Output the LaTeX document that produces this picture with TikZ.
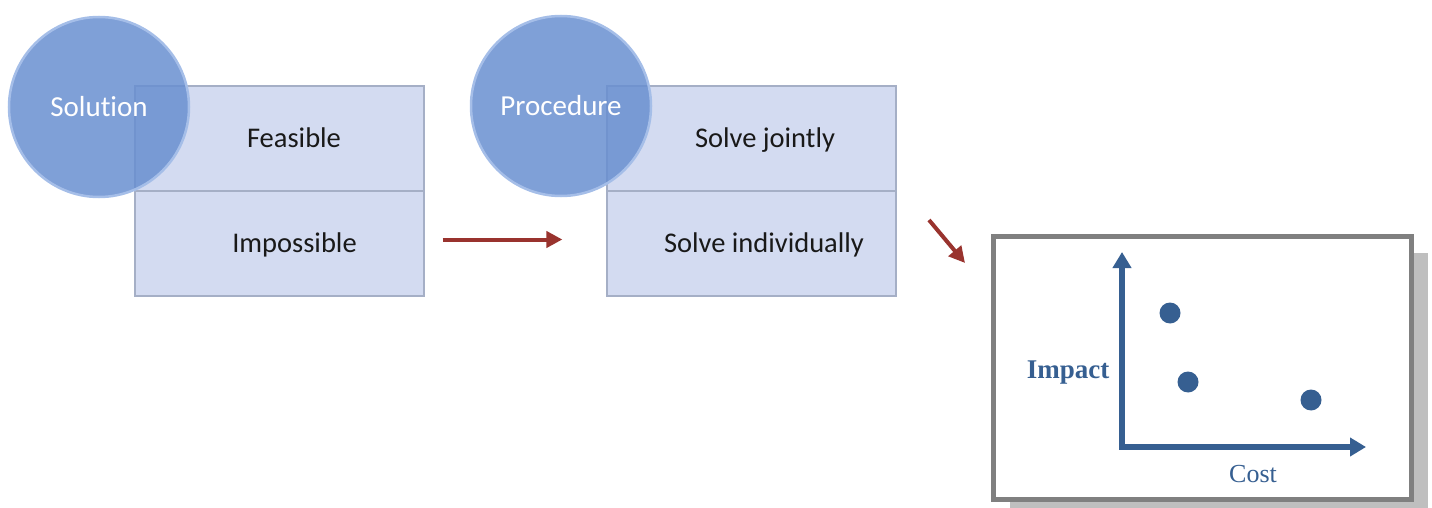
\documentclass[tikz,border=0pt]{standalone}
\usepackage{fontspec}
\newfontfamily\boxfont[RawFeature=-liga]{Carlito}
\newfontfamily\plotfont{Liberation Serif}
\usetikzlibrary{arrows.meta,shadows}

\definecolor{cellfill}{RGB}{211,219,241}
\definecolor{cellline}{RGB}{165,175,198}
\definecolor{ballblue}{RGB}{105,143,208}
\definecolor{ballrim}{RGB}{165,190,232}
\definecolor{arrowred}{RGB}{153,51,46}
\definecolor{axisblue}{RGB}{54,95,145}
\definecolor{framegray}{RGB}{128,128,128}

\begin{document}
\begin{tikzpicture}[
                x=1pt, y=-1pt,
                cellbox/.style={
                    draw=cellline,
                    fill=cellfill,
                    line width=1.2pt,
                    rectangle,
                    minimum width=289pt,
                    minimum height=105pt
                },
                celltext/.style={
                    anchor=base,
                    text=black!90,
                    font=\boxfont\fontsize{28.5}{34}\selectfont
                },
                ball/.style={
                    circle,
                    fill=ballblue,
                    fill opacity=0.85,
                    text opacity=1,
                    draw=ballrim,
                    line width=2.5pt,
                    minimum size=180pt,
                    text=white,
                    font=\boxfont\fontsize{29}{34}\selectfont
                },
                arrow/.style={
                    -{Triangle[length=16pt,width=16pt]},
                    draw=arrowred,
                    line width=4pt
                },
                plotframe/.style={
                    draw=framegray,
                    fill=white,
                    line width=5pt,
                    minimum width=418pt,
                    minimum height=263pt,
                    drop shadow={shadow xshift=16pt, shadow yshift=-16pt, fill=black!25, opacity=1}
                },
                axis/.style={
                    {Triangle[length=16pt,width=18pt]}-{Triangle[length=16pt,width=18pt]},
                    draw=axisblue,
                    line width=5.5pt
                },
                dot/.style={
                    circle,
                    fill=axisblue,
                    minimum size=21pt,
                    inner sep=0pt
                },
                axislabel/.style={
                    anchor=base,
                    text=axisblue,
                    font=\plotfont\fontsize{26}{30}\selectfont
                }
            ]
    \useasboundingbox (0,0) rectangle (1432,508);
    \clip (0,0) rectangle (1432,508);

    % first group
    \node[cellbox] (feas)   at (279.5,138.5) {};
    \node[cellbox] (imposs) at (279.5,243.5) {};
    \node[celltext] (feastxt)   at (294,148) {Feasible};
    \node[celltext] (impossTxt) at (294.5,252) {Impossible};
    \node[ball] (solution) at (99,107) {Solution};

    % second group
    \node[cellbox] (joint) at (751.5,138.5) {};
    \node[cellbox] (indiv) at (751.5,243.5) {};
    \node[celltext] (jointtxt) at (765,148) {Solve jointly};
    \node[celltext] (indivtxt) at (764,252) {Solve individually};
    \node[ball] (procedure) at (561,106) {Procedure};

    \draw[arrow, shorten <=18pt, shorten >=44pt] ([yshift=4pt]imposs.east) -- ([yshift=4pt]indiv.west);

    % plot
    \node[plotframe] (plot) at (1202.5,368) {};
    \coordinate (a2from) at (929,220);
    \coordinate (a2to)   at (965,263);
    \draw[arrow] (a2from) -- (a2to);

    \coordinate (orig) at (1122,447);
    \coordinate (ytip) at (1122,252);
    \coordinate (xtip) at (1366,447);
    \draw[axis] (ytip) -- (orig) -- (xtip);

    \node[dot] (p1) at (1170,313) {};
    \node[dot] (p2) at (1188,382) {};
    \node[dot] (p3) at (1311,400) {};

    \node[axislabel, font=\plotfont\bfseries\fontsize{27}{30}\selectfont] (impact) at (1068,378) {Impact};
    \node[axislabel] (cost) at (1253,482) {Cost};
\end{tikzpicture}
\end{document}
